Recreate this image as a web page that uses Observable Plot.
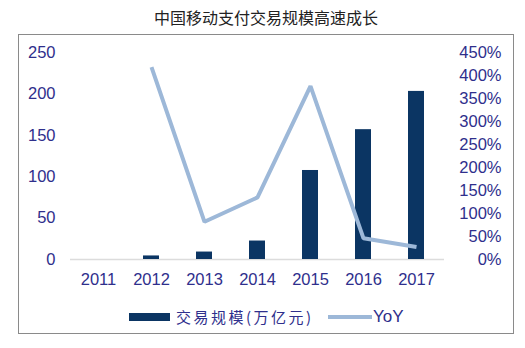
<!DOCTYPE html>
<html>
<head>
<meta charset="utf-8">
<script src="https://cdn.jsdelivr.net/npm/d3@7"></script>
<script src="https://cdn.jsdelivr.net/npm/@observablehq/plot@0.6"></script>
<style>
  html, body { margin: 0; padding: 0; background: #ffffff; }
  #wrap { position: relative; width: 525px; height: 348px; overflow: hidden; }
  #title { position: absolute; left: 0; width: 532px; top: 6px; text-align: center;
    font-family: "Noto Sans CJK SC", sans-serif; font-size: 16px; line-height: 22px; color: #222; }
  #frame { position: absolute; left: 18px; top: 34px; width: 494px; height: 298px;
    border: 1px solid #8a8a8a; pointer-events: none; }
  #chart { position: absolute; left: 0; top: 0; }
  .sw { position: absolute; }
  .lg { position: absolute; white-space: nowrap; color: #2f2f8c; line-height: 20px; }
</style>
</head>
<body>
<div id="wrap">
  <div id="chart"></div>
  <div id="frame"></div>
  <div id="title">中国移动支付交易规模高速成长</div>
  <div class="sw" style="left:129px; top:313px; width:41px; height:8px; background:#0b3563;"></div>
  <div class="lg" style="left:176px; top:307px; font-family:'Noto Sans CJK SC',sans-serif; font-size:15px; letter-spacing:2.5px;">交易规模(万亿元)</div>
  <div class="sw" style="left:328px; top:315px; width:44px; height:4px; background:#9db8d8;"></div>
  <div class="lg" style="left:373px; top:307px; font-family:'Liberation Sans',Arial,sans-serif; font-size:17px;">YoY</div>
</div>
<script>
const years = ["2011", "2012", "2013", "2014", "2015", "2016", "2017"];
const volume = [null, 4.3, 9.0, 22.3, 107.5, 156.8, 203];
const yoy = [null, 418, 82, 135, 377, 46, 27];
const leftTicks = [0, 50, 100, 150, 200, 250];
const rightTicks = [0, 50, 100, 150, 200, 250, 300, 350, 400, 450];

const leftMax = 250, rightMax = 450;
const toLeft = p => p * leftMax / rightMax;

const barData = years.map((y, i) => ({year: y, v: volume[i]})).filter(d => d.v != null);
const lineData = years.map((y, i) => ({year: y, p: yoy[i]})).filter(d => d.p != null);

const chart = Plot.plot({
  width: 525,
  height: 348,
  marginLeft: 70,
  marginRight: 81,
  marginTop: 52,
  marginBottom: 89,
  style: {background: "transparent", color: "#2f2f8c", fontSize: "16.5px", fontFamily: "'Liberation Sans', Arial, sans-serif"},
  x: {type: "band", domain: years, paddingInner: 0.7, paddingOuter: 0.35, axis: null},
  y: {domain: [0, leftMax], axis: null},
  marks: [
    Plot.ruleY([0], {stroke: "#dcdcdc", strokeWidth: 1.5}),
    Plot.barY(barData, {x: "year", y: "v", fill: "#0b3563"}),
    Plot.line(lineData, {x: "year", y: d => toLeft(d.p), stroke: "#9db8d8", strokeWidth: 4, strokeLinejoin: "miter", strokeLinecap: "butt"}),
    Plot.axisY(leftTicks, {anchor: "left", label: null, tickSize: 0, tickPadding: 15, tickFormat: d => String(d)}),
    Plot.axisX(years, {anchor: "bottom", label: null, tickSize: 0, tickPadding: 14}),
    Plot.text(rightTicks, {y: d => toLeft(d), text: d => d + "%", frameAnchor: "right", textAnchor: "end", dx: 57})
  ]
});
document.getElementById("chart").appendChild(chart);
</script>
</body>
</html>
